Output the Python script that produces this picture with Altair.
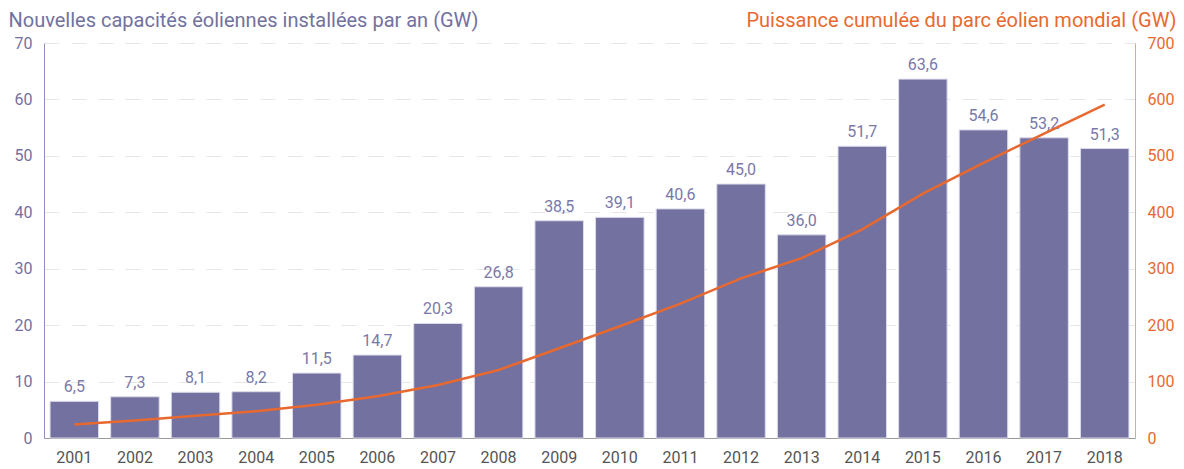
import altair as alt
import pandas as pd

years = [str(y) for y in range(2001, 2019)]
new_capacity = [6.5, 7.3, 8.1, 8.2, 11.5, 14.7, 20.3, 26.8, 38.5, 39.1, 40.6, 45.0, 36.0, 51.7, 63.6, 54.6, 53.2, 51.3]
cumulative = [23.9, 31.1, 39.4, 47.6, 59.1, 73.9, 93.9, 120.6, 159.0, 198.0, 238.0, 283.0, 318.7, 369.9, 432.9, 487.7, 539.6, 591.0]

df = pd.DataFrame({"year": years, "new": new_capacity, "cum": cumulative})

PURPLE = "#73719f"
ORANGE = "#e8692f"
FONT = "Roboto"

x = alt.X("year:N", scale=alt.Scale(paddingInner=0.2, paddingOuter=0.1),
          axis=alt.Axis(title=None, labelAngle=0, labelColor="#555555", labelFontSize=16,
                        labelPadding=11, ticks=False, domainColor="#999999", labelFont=FONT))

y_left = alt.Y("new:Q", scale=alt.Scale(domain=[0, 70]),
               axis=alt.Axis(title="Nouvelles capacités éoliennes installées par an (GW)",
                             titleAngle=0, titleAlign="left", titleBaseline="alphabetic",
                             titleX=-36, titleY=-17, titleColor=PURPLE, titleFontSize=20,
                             titleFontWeight="normal", titleFont=FONT,
                             values=list(range(0, 71, 10)), labelColor=PURPLE, labelFontSize=16,
                             labelFont=FONT, labelPadding=12, ticks=False, domainColor="#8f8dbb",
                             grid=True, gridColor="#e6e6e6", gridDash=[15, 12]))

bars = alt.Chart(df).mark_bar(color=PURPLE, stroke="#dcdbea", strokeWidth=1).encode(
    x=x,
    y=y_left,
)

labels = alt.Chart(df).transform_calculate(
    lab="replace(format(datum.new, '.1f'), '.', ',')"
).mark_text(dy=-6, baseline="bottom", color="#7a78a8", fontSize=16, font=FONT).encode(
    x=alt.X("year:N"),
    y=alt.Y("new:Q"),
    text="lab:N",
)

left = alt.layer(bars, labels)

line = alt.Chart(df).mark_line(color=ORANGE, strokeWidth=2.5).encode(
    x=alt.X("year:N"),
    y=alt.Y("cum:Q", scale=alt.Scale(domain=[0, 700]),
            axis=alt.Axis(orient="right", title="Puissance cumulée du parc éolien mondial (GW)",
                          titleAngle=0, titleAlign="right", titleBaseline="alphabetic",
                          titleX=41, titleY=-17, titleColor=ORANGE, titleFontSize=20,
                          titleFontWeight="normal", titleFont=FONT,
                          values=list(range(0, 701, 100)), labelColor=ORANGE, labelFontSize=16,
                          labelFont=FONT, labelPadding=12, ticks=False, domainColor="#f0a27c",
                          grid=False)),
)

chart = alt.layer(left, line).resolve_scale(y="independent").properties(
    width=1091, height=395, padding={"top": 2, "left": 0, "right": 0, "bottom": 0}
).configure_view(stroke=None)

chart.save("out.html", embed_options={"renderer": "svg", "actions": False})
